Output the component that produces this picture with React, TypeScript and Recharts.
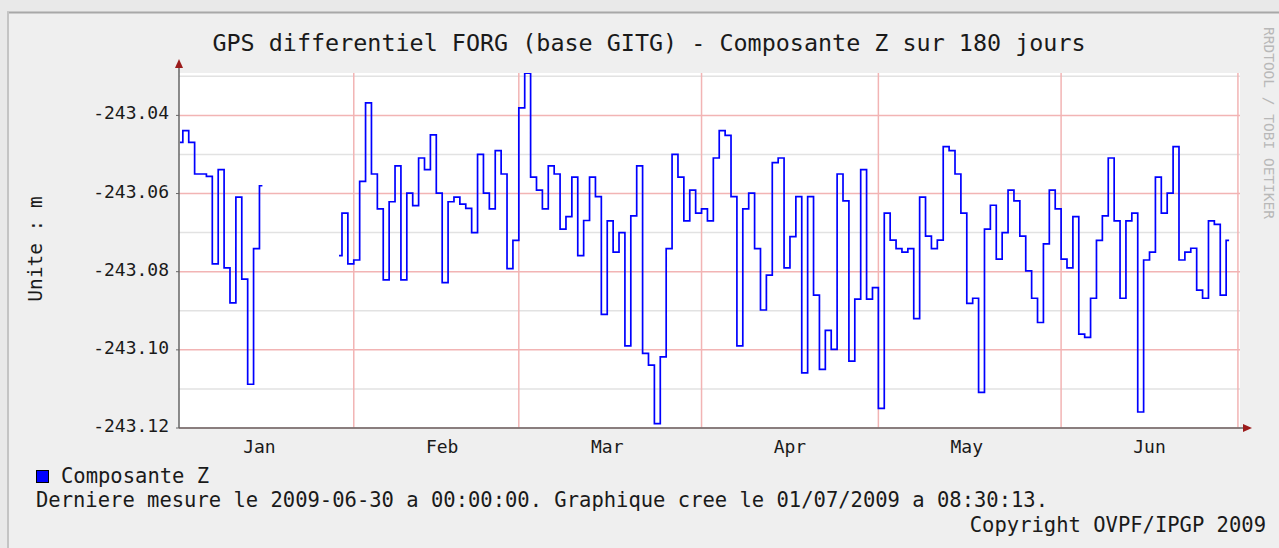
import { LineChart, Line, XAxis, YAxis, CartesianGrid } from "recharts";

// jours comptes depuis le 1er janvier 2009 (0 = 01/01)
const debutA = 1;
const valeursA = [
  -243.0469, -243.0439, -243.0469, -243.055, -243.055, -243.0556, -243.078, -243.0539,
  -243.079, -243.088, -243.0609, -243.0819, -243.1088, -243.0741, -243.058,
];

const debutB = 28;
const valeursB = [
  // 28 -> 59 (fin janvier / fevrier)
  -243.0759, -243.065, -243.078, -243.077, -243.0569, -243.0368, -243.055, -243.0639,
  -243.0821, -243.0621, -243.0529, -243.0821, -243.0599, -243.0631, -243.0509, -243.0539,
  -243.045, -243.0599, -243.0828, -243.0621, -243.0609, -243.0627, -243.0638, -243.07,
  -243.05, -243.0599, -243.0639, -243.049, -243.055, -243.0792, -243.072, -243.0381,
  // 60 -> 89 (mars)
  -243.0292, -243.0558, -243.0591, -243.0639, -243.0529, -243.055, -243.0691, -243.0659,
  -243.0558, -243.0759, -243.0669, -243.0558, -243.0608, -243.0909, -243.067, -243.075,
  -243.07, -243.099, -243.0657, -243.0529, -243.1009, -243.1039, -243.1189, -243.1018,
  -243.0741, -243.05, -243.0558, -243.067, -243.0591, -243.065,
  // 90 -> 119 (avril)
  -243.0639, -243.067, -243.0509, -243.0439, -243.0451, -243.0608, -243.099, -243.0639,
  -243.0599, -243.0741, -243.0898, -243.0809, -243.0521, -243.0509, -243.079, -243.071,
  -243.0608, -243.1059, -243.0608, -243.086, -243.105, -243.095, -243.0999, -243.055,
  -243.0619, -243.1029, -243.087, -243.0539, -243.087, -243.0841,
  // 120 -> 150 (mai)
  -243.115, -243.065, -243.0719, -243.0741, -243.075, -243.0741, -243.092, -243.0609,
  -243.0709, -243.0741, -243.0719, -243.048, -243.049, -243.055, -243.065, -243.0881,
  -243.0868, -243.1109, -243.0691, -243.063, -243.0768, -243.07, -243.0591, -243.0619,
  -243.0709, -243.0798, -243.0868, -243.093, -243.0729, -243.0591, -243.0639,
  // 151 -> 179 (juin)
  -243.0768, -243.079, -243.0659, -243.096, -243.0968, -243.0868, -243.072, -243.0657,
  -243.0509, -243.067, -243.0868, -243.067, -243.065, -243.1159, -243.077, -243.075,
  -243.0558, -243.065, -243.0599, -243.048, -243.077, -243.075, -243.074, -243.0847,
  -243.0868, -243.067, -243.0679, -243.086, -243.072,
];

const moisDebut = [31, 59, 90, 120, 151, 181];
const moisMilieu = [15, 46, 74, 105, 135, 166];
const moisNoms = ["Jan", "Feb", "Mar", "Apr", "May", "Jun"];
const yGraduations = [-243.12, -243.1, -243.08, -243.06, -243.04];
const yGrilleFine = [-243.11, -243.09, -243.07, -243.05, -243.03];

const FONT = "'DejaVu Sans Mono', monospace";

const lignes: { jour: number; z: number | null }[] = [];
for (let j = debutA; j < debutB + valeursB.length; j++) {
  let z: number | null = null;
  if (j < debutA + valeursA.length) z = valeursA[j - debutA];
  else if (j >= debutB) z = valeursB[j - debutB];
  lignes.push({ jour: j + 0.5, z });
}

function TickY(props: any) {
  const { y, payload } = props;
  return (
    <text x={169} y={y + 4} textAnchor="end" fontFamily={FONT} fontSize={18} fill="#1a1a1a">
      {payload.value.toFixed(2)}
    </text>
  );
}

function TickX(props: any) {
  const { x, payload } = props;
  const i = moisMilieu.indexOf(payload.value);
  return (
    <text x={x} y={453} textAnchor="middle" fontFamily={FONT} fontSize={18} fill="#1a1a1a">
      {moisNoms[i]}
    </text>
  );
}

export default function App() {
  return (
    <div
      style={{
        position: "absolute", left: 0, top: 0, width: 1279, height: 548,
        background: "#efefef", overflow: "hidden",
      }}
    >
      <svg width={1279} height={548} style={{ position: "absolute", left: 0, top: 0 }}>
        <rect x={0} y={0} width={1279} height={12} fill="#e9e9e9" />
        <rect x={0} y={0} width={7} height={548} fill="#e9e9e9" />
        <line x1={7} y1={12.5} x2={1279} y2={12.5} stroke="#a8a8a8" strokeWidth={2} />
        <line x1={8} y1={12} x2={8} y2={548} stroke="#c4c4c4" strokeWidth={2} />
      </svg>

      <div style={{ position: "absolute", left: 0, top: 0 }}>
        <LineChart width={1279} height={548} data={lignes} margin={{ top: 73, right: 39, bottom: 90, left: 0 }}>
          <CartesianGrid
            fill="#ffffff"
            vertical={false}
            horizontalValues={yGrilleFine}
            stroke="#e2e2e2"
            strokeWidth={1.5}
          />
          <CartesianGrid
            horizontalValues={yGraduations}
            verticalValues={moisDebut}
            stroke="#f2b4b4"
            strokeWidth={1.5}
          />
          <XAxis
            type="number"
            dataKey="jour"
            domain={[1.35, 181.35]}
            allowDataOverflow
            ticks={moisMilieu}
            tick={<TickX />}
            tickLine={false}
            axisLine={{ stroke: "#666", strokeWidth: 1.5 }}
            height={30}
          />
          <YAxis
            type="number"
            domain={[-243.12, -243.02915]}
            allowDataOverflow
            ticks={yGraduations}
            tick={<TickY />}
            tickSize={3}
            tickLine={{ stroke: "#666" }}
            axisLine={{ stroke: "#666", strokeWidth: 1.5 }}
            width={179}
          />
          <Line
            type="step"
            dataKey="z"
            stroke="#0000ff"
            strokeWidth={1.7}
            dot={false}
            activeDot={false}
            connectNulls={false}
            isAnimationActive={false}
          />
        </LineChart>
      </div>

      <svg width={1279} height={548} style={{ position: "absolute", left: 0, top: 0, pointerEvents: "none" }}>
        {/* fleches des axes */}
        <line x1={179} y1={73} x2={179} y2={67} stroke="#666" strokeWidth={1.5} />
        <polygon points="175,68 183,68 179,59" fill="#9b1c1c" />
        <line x1={1240} y1={428} x2={1244} y2={428} stroke="#666" strokeWidth={1.5} />
        <polygon points="1243,424 1243,432 1252,428" fill="#9b1c1c" />

        <text x={649} y={51} textAnchor="middle" fontFamily={FONT} fontSize={23.4} fill="#1a1a1a">
          GPS differentiel FORG (base GITG) - Composante Z sur 180 jours
        </text>
        <text
          x={0} y={0} transform="translate(42,249) rotate(-90)" textAnchor="middle"
          fontFamily={FONT} fontSize={19.5} fill="#1a1a1a"
        >
          Unite : m
        </text>
        <text
          x={0} y={0} transform="translate(1264,123) rotate(90)" textAnchor="middle"
          fontFamily={FONT} fontSize={14.5} fill="#b8b8b8"
        >
          RRDTOOL / TOBI OETIKER
        </text>

        <rect x={36.5} y={470.5} width={12} height={12} fill="#0000ff" stroke="#000" />
        <text x={61} y={483} fontFamily={FONT} fontSize={20.5} fill="#1a1a1a">Composante Z</text>
        <text x={36} y={507} fontFamily={FONT} fontSize={20.5} fill="#1a1a1a">
          Derniere mesure le 2009-06-30 a 00:00:00. Graphique cree le 01/07/2009 a 08:30:13.
        </text>
        <text x={1266} y={532} textAnchor="end" fontFamily={FONT} fontSize={20.5} fill="#1a1a1a">
          Copyright OVPF/IPGP 2009
        </text>
      </svg>
    </div>
  );
}
